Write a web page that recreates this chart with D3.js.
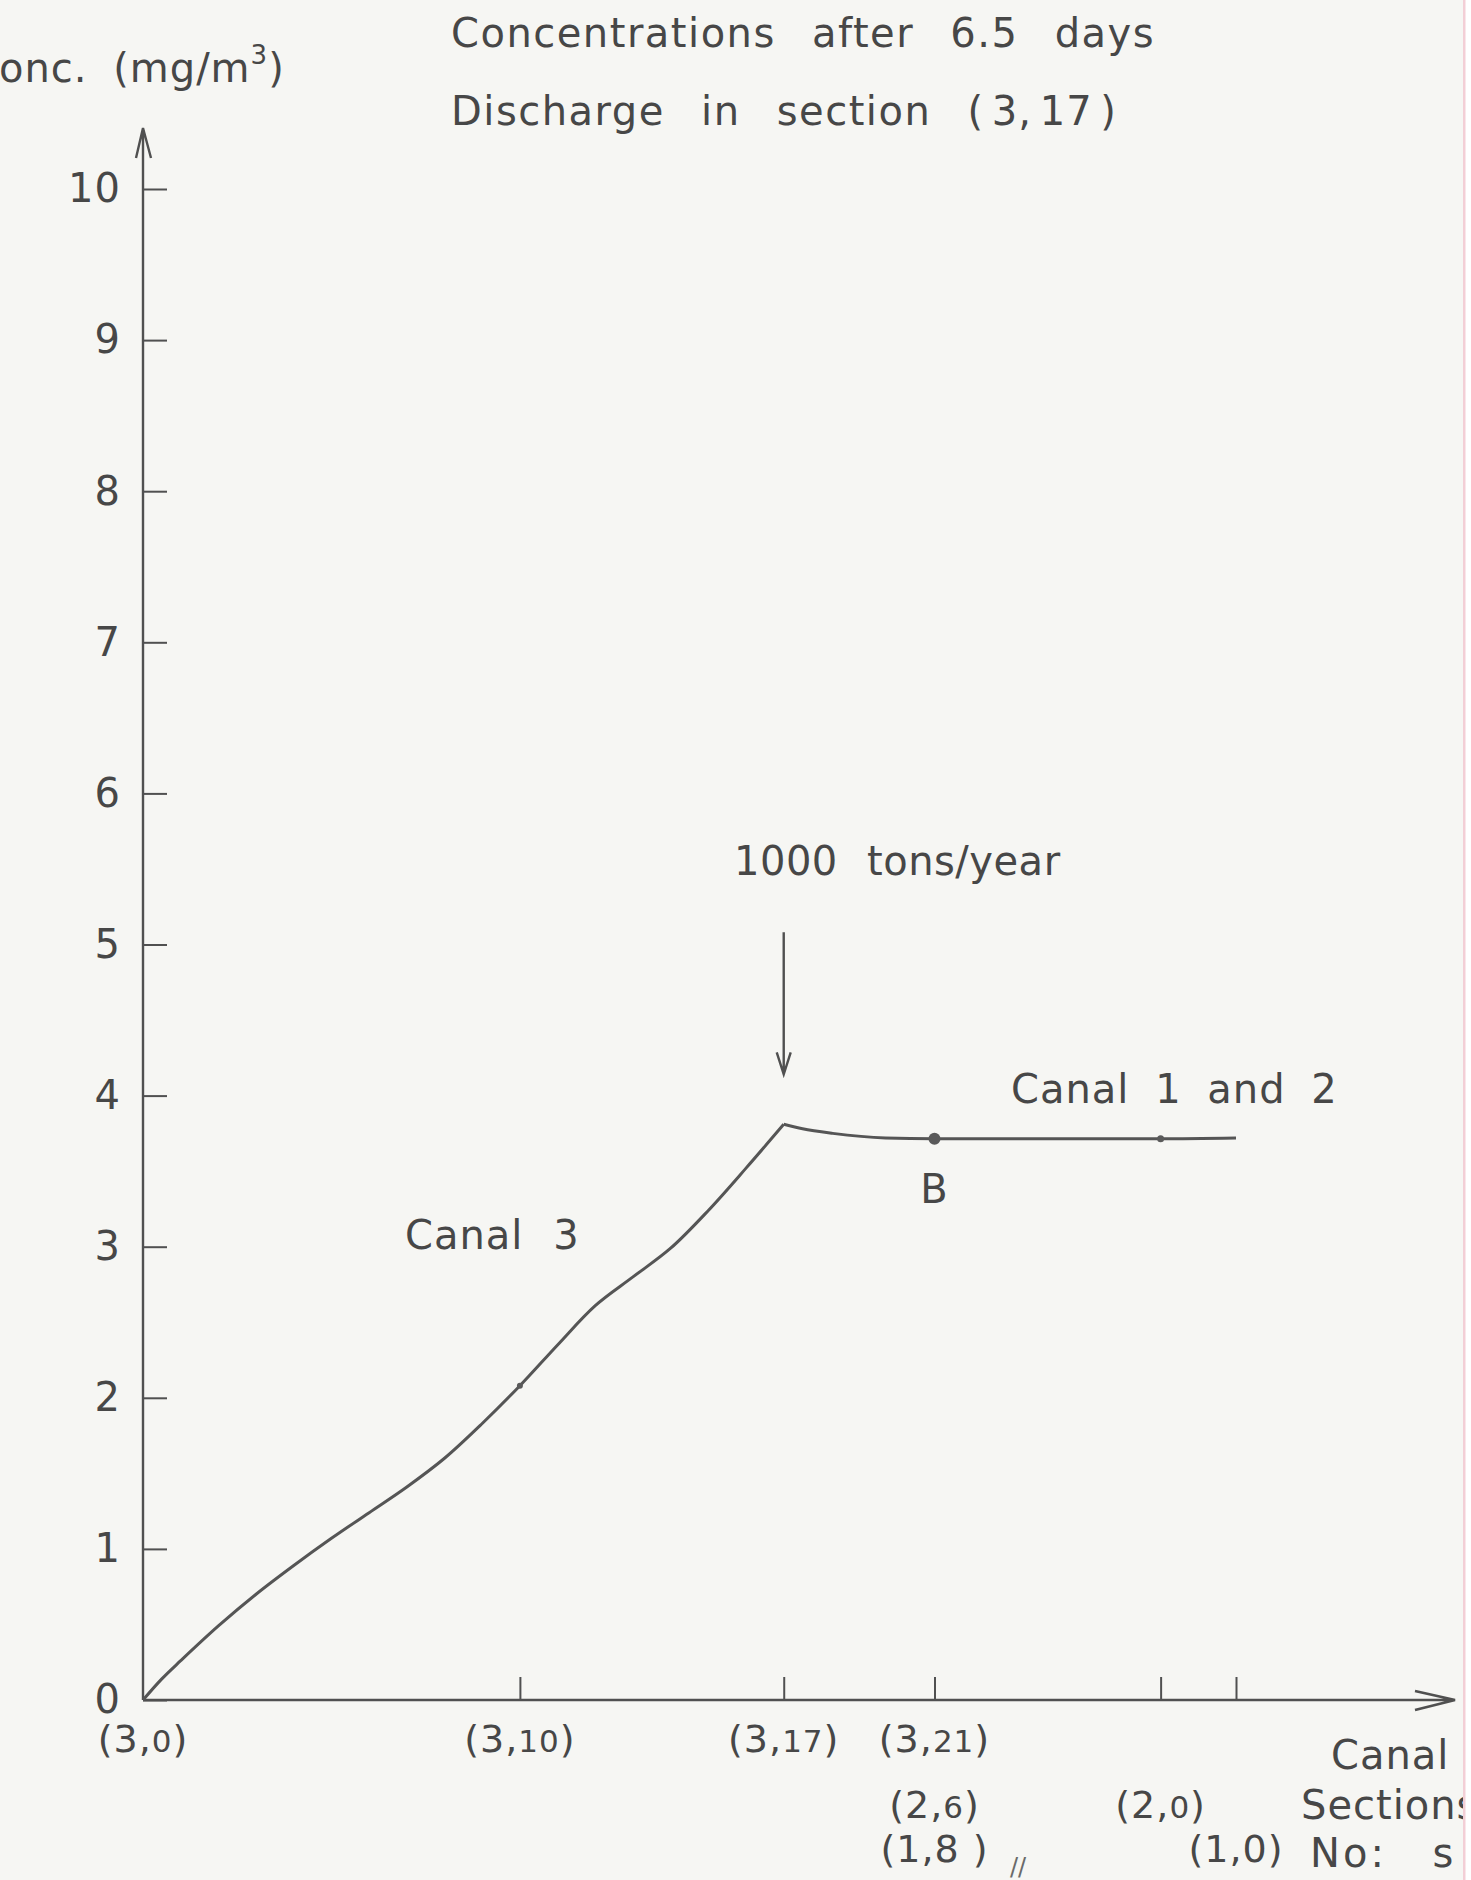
<!DOCTYPE html>
<html>
<head>
<meta charset="utf-8">
<script src="https://cdn.jsdelivr.net/npm/d3@7"></script>
<style>
  html, body { margin: 0; padding: 0; background: #ffffff; }
  svg { display: block; }
  text { font-family: "DejaVu Sans", sans-serif; fill: #474747; letter-spacing: 1px; word-spacing: 16px; }
</style>
</head>
<body>
<svg id="chart" width="1471" height="1880"></svg>
<script>
// Canal 3, from section (3,0) up to the discharge at (3,17): section index, concentration (mg/m3)
const canal3Sections = [0, 0.5, 1, 2, 3, 4, 5, 6, 7, 8, 9, 10, 11, 12, 13, 14, 15, 16, 17];
const canal3Conc     = [0, 0.14, 0.26, 0.49, 0.70, 0.89, 1.07, 1.24, 1.41, 1.60, 1.83, 2.08, 2.35, 2.61, 2.80, 2.99, 3.24, 3.52, 3.81];

// Canals 1 and 2, downstream of the discharge
const canal12Sections = [17, 17.5, 18.3, 19.7, 21, 24, 27, 29];
const canal12Conc     = [3.81, 3.78, 3.75, 3.72, 3.715, 3.715, 3.715, 3.72];

// Points marked on the curve
const markedSections = [10, 21, 27];
const markedConc     = [2.08, 3.715, 3.715];

// Discharge location and label of point B
const dischargeSection = 17;
const dischargeConc = 3.81;
const pointBSection = 21;
const pointBConc = 3.715;

// Axis ticks
const yTickValues = [0, 1, 2, 3, 4, 5, 6, 7, 8, 9, 10];
const xTickValues = [10, 17, 21, 27, 29];

// Section labels under the axis, one row per canal: [position, canal, section]
const canal3Labels = [[0, "3", "0"], [10, "3", "10"], [17, "3", "17"], [21, "3", "21"]];
const canal2Labels = [[21, "2", "6"], [27, "2", "0"]];
const canal1Labels = [[21, "1", "8 "], [29, "1", "0"]];

const W = 1471, H = 1880;
const svg = d3.select("#chart");

// paper
svg.append("rect").attr("width", W).attr("height", H).attr("fill", "#ffffff");
svg.append("rect").attr("width", 1464).attr("height", H).attr("fill", "#f6f6f3");
svg.append("rect").attr("x", 1463).attr("width", 2.5).attr("height", H).attr("fill", "#f3cfd6");

svg.append("defs").append("clipPath").attr("id", "page")
  .append("rect").attr("width", 1463).attr("height", H);

const root = svg.append("g").attr("clip-path", "url(#page)");

const x = d3.scaleLinear().domain([0, 29]).range([143, 1236]);
const y = d3.scaleLinear().domain([0, 10]).range([1700, 189]);

const ink = "#505050";

// y axis
const yAxis = d3.axisLeft(y).tickValues(yTickValues).tickFormat(d3.format("d"))
  .tickSizeInner(-24).tickSizeOuter(0).tickPadding(22);
const gy = root.append("g").attr("transform", `translate(${x(0)},0)`).call(yAxis);
gy.select(".domain").remove();
gy.selectAll(".tick line").attr("stroke", ink).attr("stroke-width", 2);
gy.selectAll(".tick text").attr("font-size", 40).attr("fill", "#474747")
  .style("font-family", '"DejaVu Sans", sans-serif');

// x axis
const xAxis = d3.axisBottom(x).tickValues(xTickValues).tickFormat("")
  .tickSizeInner(-23).tickSizeOuter(0);
const gx = root.append("g").attr("transform", `translate(0,${y(0)})`).call(xAxis);
gx.select(".domain").remove();
gx.selectAll(".tick line").attr("stroke", ink).attr("stroke-width", 2);

// axis lines with open arrowheads
const axisTop = 128, axisRight = 1455;
root.append("path")
  .attr("d", `M${x(0)},${y(0)}V${axisTop} M${x(0) - 7},${axisTop + 30}L${x(0)},${axisTop}L${x(0) + 8},${axisTop + 30}`)
  .attr("fill", "none").attr("stroke", ink).attr("stroke-width", 2.4);
root.append("path")
  .attr("d", `M${x(0)},${y(0)}H${axisRight} M${axisRight - 40},${y(0) - 9}L${axisRight},${y(0)}L${axisRight - 40},${y(0) + 10}`)
  .attr("fill", "none").attr("stroke", ink).attr("stroke-width", 2.6);

// concentration curve, drawn as two branches meeting at the discharge
const line3 = d3.line().x(d => x(d[0])).y(d => y(d[1])).curve(d3.curveCatmullRom.alpha(0.5));
const line12 = d3.line().x(d => x(d[0])).y(d => y(d[1])).curve(d3.curveMonotoneX);
root.append("path").datum(d3.zip(canal3Sections, canal3Conc))
  .attr("d", line3)
  .attr("fill", "none").attr("stroke", "#555").attr("stroke-width", 3);
root.append("path").datum(d3.zip(canal12Sections, canal12Conc))
  .attr("d", line12)
  .attr("fill", "none").attr("stroke", "#555").attr("stroke-width", 3);

// marked points (B is the larger one)
const markerRadius = [3, 6, 3.5];
root.selectAll("circle.mark").data(d3.zip(markedSections, markedConc)).join("circle")
  .attr("class", "mark")
  .attr("cx", d => x(d[0])).attr("cy", d => y(d[1]))
  .attr("r", (d, i) => markerRadius[i]).attr("fill", "#5a5a5a");

// discharge arrow
const arrowX = x(dischargeSection);
const arrowTip = y(dischargeConc) - 50;
root.append("path")
  .attr("d", `M${arrowX},${arrowTip - 142}V${arrowTip} M${arrowX - 7},${arrowTip - 22}L${arrowX},${arrowTip}L${arrowX + 7},${arrowTip - 22}`)
  .attr("fill", "none").attr("stroke", ink).attr("stroke-width", 2.4);

// text helper
function label(txt, tx, ty, size, anchor) {
  return root.append("text").attr("x", tx).attr("y", ty).attr("dy", "0.36em")
    .attr("font-size", size).attr("text-anchor", anchor || "start").text(txt);
}

label("Concentrations after 6.5 days", 451, 33, 40)
  .style("letter-spacing", "1.5px").style("word-spacing", "22px");
const t2 = root.append("text").attr("x", 451).attr("y", 111).attr("dy", "0.36em").attr("font-size", 40)
  .style("letter-spacing", "1.5px").style("word-spacing", "22px");
t2.append("tspan").text("Discharge in section ");
t2.append("tspan").style("word-spacing", "-6px").style("letter-spacing", "1px").text("( 3, 17 )");

const yTitle = root.append("text").attr("x", -30).attr("y", 68).attr("dy", "0.36em").attr("font-size", 40)
  .style("word-spacing", "12px");
yTitle.append("tspan").text("Conc. (mg/m");
yTitle.append("tspan").attr("font-size", 26).attr("dy", "-0.7em").text("3");
yTitle.append("tspan").attr("dy", "0.45em").text(")");

label("1000 tons/year", 734, 861, 40).style("letter-spacing", "0.5px");
label("Canal 1 and 2", 1011, 1089, 40).style("word-spacing", "12px");
label("B", x(pointBSection), y(pointBConc) + 50, 40, "middle");
label("Canal 3", 405, 1235, 40);

// section labels, one row for each canal
const rowY = [1738, 1804, 1848];
[canal3Labels, canal2Labels, canal1Labels].forEach((rows, r) => {
  rows.forEach(([pos, canal, sec]) => {
    const t = root.append("text").attr("x", x(pos)).attr("y", rowY[r]).attr("dy", "0.36em")
      .attr("font-size", 38).attr("text-anchor", "middle")
      .style("letter-spacing", "1px").style("word-spacing", "0px");
    t.append("tspan").text("(" + canal + ",");
    t.append("tspan").attr("font-size", r < 2 ? 31 : 38).text(sec);
    t.append("tspan").text(")");
  });
});

// axis title for the sections
label("Canal", 1331, 1755, 40);
label("Sections", 1301, 1805, 40);
label("No: s", 1310, 1853, 40).style("letter-spacing", "3px").style("word-spacing", "30px");
label("//", 1010, 1866, 24).style("fill", "#6a6a6a").style("letter-spacing", "0px");
</script>
</body>
</html>
